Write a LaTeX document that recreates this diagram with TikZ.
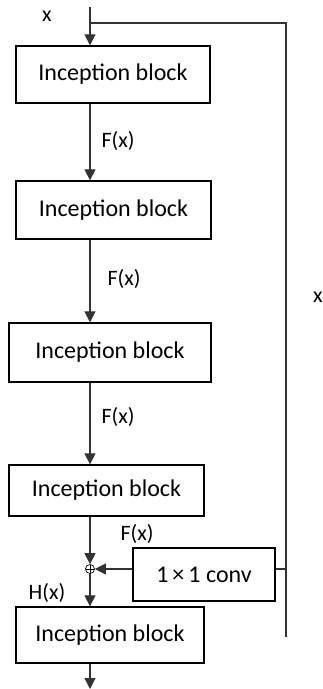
\documentclass[tikz,border=0pt]{standalone}
\usepackage{fontspec}
\setmainfont{Carlito}
\usetikzlibrary{positioning,calc,arrows.meta}

\begin{document}
\begin{tikzpicture}[x=1pt,y=-1pt,
    block/.style={draw, line width=1.3pt, font=\fontsize{24}{28}\selectfont, inner sep=0pt},
    arr/.style={-{Triangle[length=11pt,width=11pt]}, line width=1.2pt, black!80},
    wire/.style={line width=1.2pt, black!80},
    lbl/.style={font=\fontsize{22}{26}\selectfont}]
    \useasboundingbox (0,0) rectangle (322,689);
    % Stacked inception blocks
    \node[block, minimum width=194pt, minimum height=57pt] (b1) at (113,74.5) {Inception block};
    \node[block, minimum width=195pt, minimum height=58pt] (b2) at (113.5,210) {Inception block};
    \node[block, minimum width=202pt, minimum height=59pt] (b3) at (110,352.5) {Inception block};
    \node[block, minimum width=195pt, minimum height=51pt] (b4) at (106.5,490.5) {Inception block};
    \node[block, minimum width=188pt, minimum height=56pt] (b5) at (110,635) {Inception block};
    \node[block, minimum width=142pt, minimum height=53pt] (conv) at (204,574.5) {1\,×\,1 conv};
    \node[draw, circle, line width=0.7pt, minimum size=9pt, inner sep=0pt,
          path picture={\draw[line width=0.6pt] (path picture bounding box.north) -- (path picture bounding box.south)
                        (path picture bounding box.west) -- (path picture bounding box.east);}] (sum) at (90,569) {};
    \coordinate (in) at (90,7);
    \coordinate (out) at (90,689);
    \coordinate (skip) at (90,23);
    \coordinate (corner) at (286,23);
    \coordinate (down) at (286,637);
    % Main path
    \draw[arr] (in) -- (b1.north -| in);
    \draw[arr] (b1.south -| in) -- (b2.north -| in);
    \draw[arr] (b2.south -| in) -- (b3.north -| in);
    \draw[arr] (b3.south -| in) -- (b4.north -| in);
    \draw[arr] (b4.south -| in) -- (sum.north);
    \draw[arr] (sum.south) -- (b5.north -| in);
    \draw[arr] (b5.south -| in) -- (out);
    % Shortcut
    \draw[wire] (skip) -- (corner) -- (down);
    \draw[wire] (conv.east |- sum) -- (sum -| corner);
    \draw[arr] (conv.west |- sum) -- (sum.east);
    % Labels
    \node[lbl] (lx) at (47,16) {x};
    \node[lbl] (f1) at (118,141) {F(x)};
    \node[lbl] (f2) at (124,279) {F(x)};
    \node[lbl] (f3) at (118,417) {F(x)};
    \node[lbl] (f4) at (137,534) {F(x)};
    \node[lbl] (hx) at (47,593) {H(x)};
    \node[lbl] (rx) at (318,297) {x};
\end{tikzpicture}
\end{document}
